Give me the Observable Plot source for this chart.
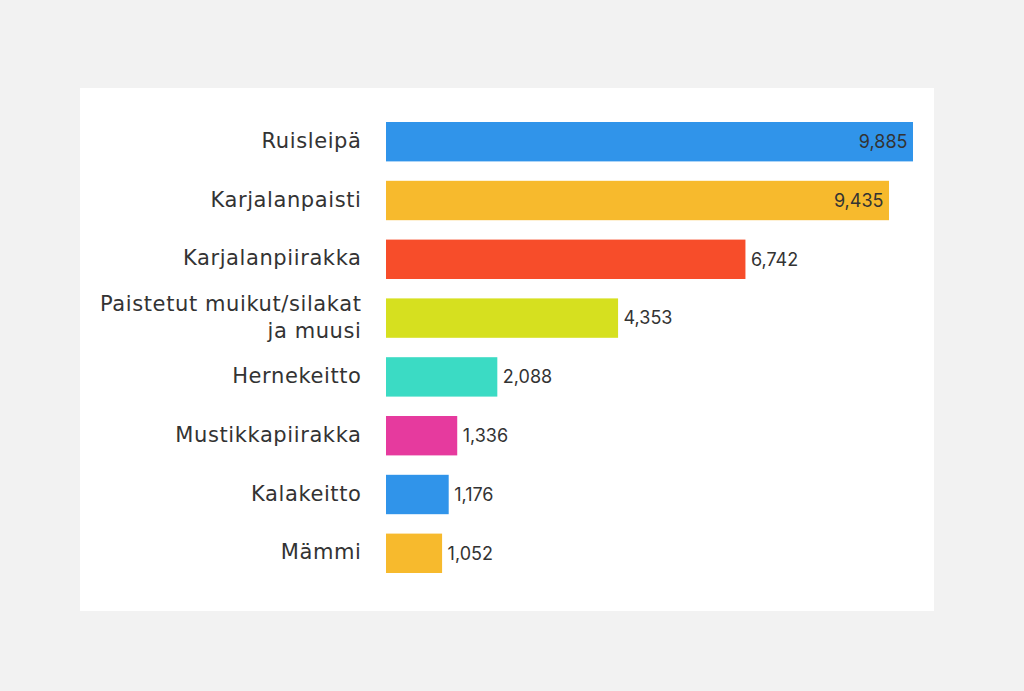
<!DOCTYPE html>
<html>
<head>
<meta charset="utf-8">
<script src="https://cdn.jsdelivr.net/npm/d3@7"></script>
<script src="https://cdn.jsdelivr.net/npm/@observablehq/plot@0.6"></script>
<style>
  html, body { margin: 0; padding: 0; background: #f2f2f2; width: 1024px; height: 691px; overflow: hidden; }
  #panel { position: absolute; left: 80px; top: 88px; width: 854px; height: 523px; background: #ffffff; }
  g[aria-label="y-axis tick label"] text { letter-spacing: 0.6px; }
</style>
</head>
<body>
<div id="panel"></div>
<script>
const foods = ["Ruisleipä", "Karjalanpaisti", "Karjalanpiirakka", "Paistetut muikut/silakat ja muusi", "Hernekeitto", "Mustikkapiirakka", "Kalakeitto", "Mämmi"];
const counts = [9885, 9435, 6742, 4353, 2088, 1336, 1176, 1052];
const colors = ["#3094ea", "#f7ba2d", "#f74d2a", "#d6e01f", "#3bdbc4", "#e63a9e", "#3094ea", "#f7ba2d"];
const tickLabels = ["Ruisleipä", "Karjalanpaisti", "Karjalanpiirakka", "Paistetut muikut/silakat\nja muusi", "Hernekeitto", "Mustikkapiirakka", "Kalakeitto", "Mämmi"];

const data = foods.map((f, i) => ({food: f, count: counts[i], color: colors[i], inside: i < 2}));
const fmt = d3.format(",");

const chart = Plot.plot({
  width: 854,
  height: 523,
  marginLeft: 306,
  marginRight: 21,
  marginTop: 14.6,
  marginBottom: 18.6,
  style: {background: "transparent", fontFamily: "Inter, 'Open Sans', sans-serif", color: "#333"},
  x: {domain: [0, 9885], axis: null},
  y: {domain: foods, padding: 0.33, round: false, label: null},
  marks: [
    Plot.barX(data, {x: "count", y: "food", fill: "color"}),
    Plot.axisY({
      tickSize: 0,
      tickPadding: 25,
      fontSize: 21,
      lineHeight: 1.29,
      dy: -3,
      label: null,
      tickFormat: d => tickLabels[foods.indexOf(d)],
      fill: "#333",
      fontFamily: "'DejaVu Sans', sans-serif"
    }),
    Plot.text(data.filter(d => d.inside), {x: "count", y: "food", text: d => fmt(d.count), textAnchor: "end", dx: -6, fontSize: 18, fill: "#333"}),
    Plot.text(data.filter(d => !d.inside), {x: "count", y: "food", text: d => fmt(d.count), textAnchor: "start", dx: 5, fontSize: 18, fill: "#333"})
  ]
});
document.getElementById("panel").appendChild(chart);
</script>
</body>
</html>
